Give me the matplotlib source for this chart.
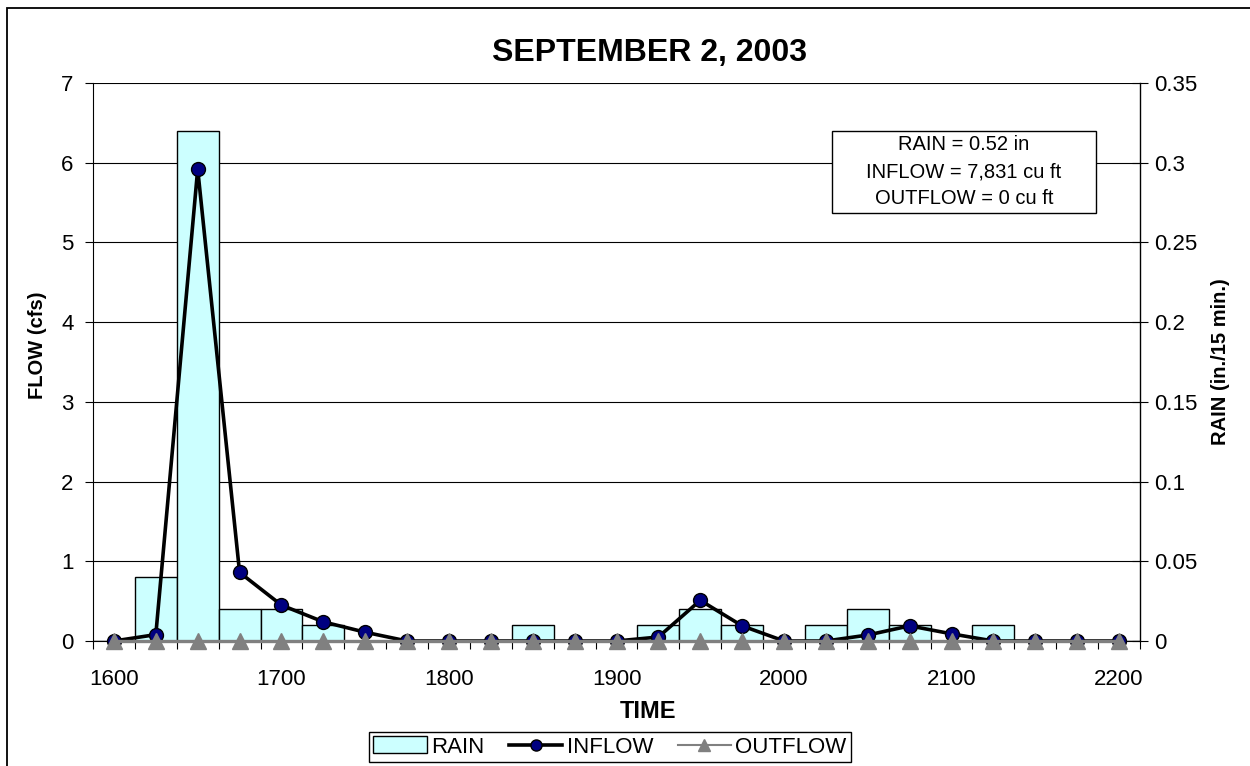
import matplotlib
matplotlib.use("Agg")
import matplotlib.pyplot as plt
from matplotlib.patches import Rectangle, Patch
from matplotlib.lines import Line2D

plt.rcParams['font.family'] = ['Liberation Sans', 'DejaVu Sans']

# ---- data ----
times = [1600, 1625, 1650, 1675, 1700, 1725, 1750, 1775, 1800, 1825, 1850, 1875, 1900,
         1925, 1950, 1975, 2000, 2025, 2050, 2075, 2100, 2125, 2150, 2175, 2200]
rain = [0, 0.04, 0.32, 0.02, 0.02, 0.01, 0, 0, 0, 0, 0.01, 0, 0,
        0.01, 0.02, 0.01, 0, 0.01, 0.02, 0.01, 0, 0.01, 0, 0, 0]
inflow = [0, 0.08, 5.92, 0.86, 0.45, 0.24, 0.11, 0, 0, 0, 0, 0, 0,
          0.05, 0.51, 0.19, 0, 0, 0.075, 0.19, 0.09, 0, 0, 0, 0]
outflow = [0] * 25
xtick_labels = [1600, 1700, 1800, 1900, 2000, 2100, 2200]
flow_ticks = [0, 1, 2, 3, 4, 5, 6, 7]
rain_ticks = [0, 0.05, 0.1, 0.15, 0.2, 0.25, 0.3, 0.35]
rain_tick_labels = ['0', '0.05', '0.1', '0.15', '0.2', '0.25', '0.3', '0.35']
title = 'SEPTEMBER 2, 2003'
summary_lines = ['RAIN = 0.52 in', 'INFLOW = 7,831 cu ft', 'OUTFLOW = 0 cu ft']

W, H = 1250, 766
fig = plt.figure(figsize=(W / 100, H / 100), dpi=100)


def fx(px):
    return px / W


def fy(py):
    return 1 - py / H


# outer chart frame
fig.patches.append(Rectangle((fx(7), -0.1), 1.2, fy(8) + 0.1, transform=fig.transFigure,
                             fill=False, edgecolor='black', linewidth=1.3))

L, R, B, T = fx(93), fx(1140), fy(641), fy(83)
ax2 = fig.add_axes([L, B, R - L, T - B])   # rain (right) axis, drawn underneath
ax = fig.add_axes([L, B, R - L, T - B], sharex=ax2)
ax.set_zorder(ax2.get_zorder() + 1)
ax.patch.set_visible(False)

step = 25
# rain bars on the secondary axis
ax2.bar(times, rain, width=step, facecolor='#CCFFFF', edgecolor='black', linewidth=1.0, zorder=2)
ax2.set_ylim(0, 0.35)
ax2.set_yticks(rain_ticks)
ax2.set_yticklabels(rain_tick_labels)
ax2.yaxis.tick_right()
ax2.yaxis.set_label_position('right')
ax2.set_axisbelow(True)
ax2.yaxis.grid(True, color='black', linewidth=0.8)
ax2.tick_params(axis='y', which='major', direction='inout', length=12, labelsize=16, pad=4)
ax2.set_ylabel('RAIN (in./15 min.)', fontsize=14.5, fontweight='bold', va='center')
ax2.yaxis.set_label_coords(1 + (1220 - 1140) / (1140 - 93), 0.5)
for s in ['top', 'left', 'bottom']:
    ax2.spines[s].set_visible(False)
ax2.spines['right'].set_linewidth(1.0)

# flows on the primary axis
ax.plot(times, inflow, color='black', linewidth=2.6, marker='o', markersize=10,
        markerfacecolor='#000080', markeredgecolor='black', markeredgewidth=1.0,
        zorder=4, clip_on=False)
ax.plot(times, outflow, color='#808080', linewidth=2.4, marker='^', markersize=11,
        markerfacecolor='#808080', markeredgecolor='#808080', zorder=5, clip_on=False)
ax.set_ylim(0, 7)
ax.set_yticks(flow_ticks)
ax.tick_params(axis='y', direction='out', length=6, labelsize=16, pad=8)
ax.set_ylabel('FLOW (cfs)', fontsize=14.5, fontweight='bold', va='center')
ax.yaxis.set_label_coords((38 - 93) / (1140 - 93), (641 - 345) / (641 - 83))
ax.spines['top'].set_visible(False)
ax.spines['right'].set_visible(False)

# x axis: tick marks between categories, labels at the hours
ax.set_xlim(times[0] - step / 2, times[-1] + step / 2)
bounds = [t - step / 2 for t in times] + [times[-1] + step / 2]
ax.set_xticks(bounds)
ax.set_xticklabels([''] * len(bounds))
ax.set_xticks(xtick_labels, minor=True)
ax.set_xticklabels([str(v) for v in xtick_labels], minor=True)
ax.tick_params(axis='x', which='major', direction='out', length=6)
ax.tick_params(axis='x', which='minor', length=0, labelsize=16, pad=20)
ax.set_xlabel('TIME', fontsize=17, fontweight='bold', va='center')
ax.xaxis.set_label_coords((648 - 93) / (1140 - 93), -(711 - 641) / (641 - 83))
ax2.tick_params(axis='x', which='both', length=0, labelbottom=False)

fig.text(fx(650), fy(53), title, ha='center', va='center', fontsize=23, fontweight='bold')

# summary box
fig.patches.append(Rectangle((fx(832), fy(213)), fx(1096) - fx(832), fy(131) - fy(213),
                             transform=fig.transFigure, facecolor='white', edgecolor='black',
                             linewidth=1.0, zorder=10))
for i, line in enumerate(summary_lines):
    fig.text(fx(964), fy(145 + 27 * i), line, ha='center', va='center', fontsize=14.5, zorder=11)

# legend
handles = [
    Patch(facecolor='#CCFFFF', edgecolor='black', linewidth=1.0),
    Line2D([], [], color='black', linewidth=2.6, marker='o', markersize=8,
           markerfacecolor='#000080', markeredgecolor='black'),
    Line2D([], [], color='#808080', linewidth=1.5, marker='^', markersize=9,
           markerfacecolor='#808080', markeredgecolor='#808080'),
]
leg = fig.legend(handles, ['RAIN', 'INFLOW', 'OUTFLOW'], loc='center',
                 bbox_to_anchor=(fx(610), fy(747)), ncol=3, fontsize=16,
                 frameon=True, fancybox=False, edgecolor='black', framealpha=1,
                 handlelength=2.4, handletextpad=0.2, columnspacing=1.1,
                 borderpad=0.2, handleheight=0.8)
leg.get_frame().set_linewidth(1.0)

fig.savefig('out.png', dpi=100)
